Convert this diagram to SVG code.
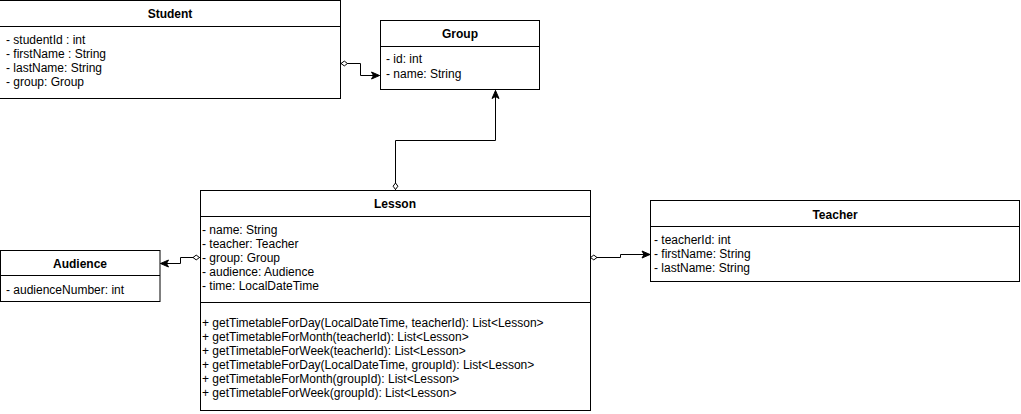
<svg xmlns="http://www.w3.org/2000/svg" width="1021" height="414" viewBox="0 0 1021 414">
<style>
text{font-family:"Liberation Sans",Arial,Helvetica,sans-serif;font-size:12px;fill:#000}
.t{font-weight:bold;text-anchor:middle}
.box{fill:#fff;stroke:#000;stroke-width:1}
.ln{stroke:#000;stroke-width:1;fill:none}
.edge{stroke:#000;stroke-width:1;fill:none;marker-start:url(#dia);marker-end:url(#arr)}
</style>
<defs>
<marker id="dia" markerUnits="userSpaceOnUse" markerWidth="10" markerHeight="8" refX="0" refY="0" orient="auto" overflow="visible"><path d="M0.5,0 L3.8,-2.4 L7,0 L3.8,2.4 Z" fill="#fff" stroke="#000" stroke-width="1"/></marker>
<marker id="arr" markerUnits="userSpaceOnUse" markerWidth="10" markerHeight="8" refX="0" refY="0" orient="auto" overflow="visible"><path d="M-8,-3.5 L0,0 L-8,3.5 L-6,0 Z" fill="#000" stroke="#000" stroke-width="1"/></marker>
</defs>
<rect width="1021" height="414" fill="#fff"/>
<g id="connectors">
<path class="edge" d="M340.5,63.5 H360.5 V75.5 H379.5"/>
<path class="edge" d="M395.5,190 V140.5 H495.5 V90.5"/>
<path class="edge" d="M200,257.5 H180.5 V263.5 H160.5"/>
<path class="edge" d="M590,257.5 H620.5 V254.5 H650"/>
</g>
<g id="student">
<rect class="box" x="-5" y="0.5" width="345.5" height="98"/>
<path class="ln" d="M-5,26.5 H340.5"/>
<text class="t" x="170" y="18">Student</text>
<text x="6" y="44">- studentId : int</text>
<text x="6" y="58">- firstName : String</text>
<text x="6" y="72">- lastName: String</text>
<text x="6" y="86">- group: Group</text>
</g>
<g id="group">
<rect class="box" x="380.5" y="20.5" width="159" height="69"/>
<path class="ln" d="M380.5,46.5 H539.5"/>
<text class="t" x="460" y="38">Group</text>
<text x="386" y="63">- id: int</text>
<text x="386" y="78">- name: String</text>
</g>
<g id="lesson">
<rect class="box" x="200.5" y="190.5" width="390" height="220"/>
<path class="ln" d="M200.5,216.5 H590.5 M200.5,302.5 H590.5"/>
<text class="t" x="395" y="208">Lesson</text>
<text x="202" y="234">- name: String</text>
<text x="202" y="248">- teacher: Teacher</text>
<text x="202" y="262">- group: Group</text>
<text x="202" y="276">- audience: Audience</text>
<text x="202" y="290">- time: LocalDateTime</text>
<text x="202" y="327">+ getTimetableForDay(LocalDateTime, teacherId): List&lt;Lesson&gt;</text>
<text x="202" y="341">+ getTimetableForMonth(teacherId): List&lt;Lesson&gt;</text>
<text x="202" y="355">+ getTimetableForWeek(teacherId): List&lt;Lesson&gt;</text>
<text x="202" y="369">+ getTimetableForDay(LocalDateTime, groupId): List&lt;Lesson&gt;</text>
<text x="202" y="383">+ getTimetableForMonth(groupId): List&lt;Lesson&gt;</text>
<text x="202" y="397">+ getTimetableForWeek(groupId): List&lt;Lesson&gt;</text>
</g>
<g id="audience">
<rect class="box" x="0.5" y="250.5" width="159.5" height="51"/>
<path class="ln" d="M0.5,275.5 H160"/>
<text class="t" x="80" y="268">Audience</text>
<text x="6" y="294">- audienceNumber: int</text>
</g>
<g id="teacher">
<rect class="box" x="650.5" y="200.5" width="369" height="81"/>
<path class="ln" d="M650.5,226.5 H1019.5"/>
<text class="t" x="835" y="219">Teacher</text>
<text x="654" y="244">- teacherId: int</text>
<text x="654" y="258">- firstName: String</text>
<text x="654" y="272">- lastName: String</text>
</g>
</svg>
